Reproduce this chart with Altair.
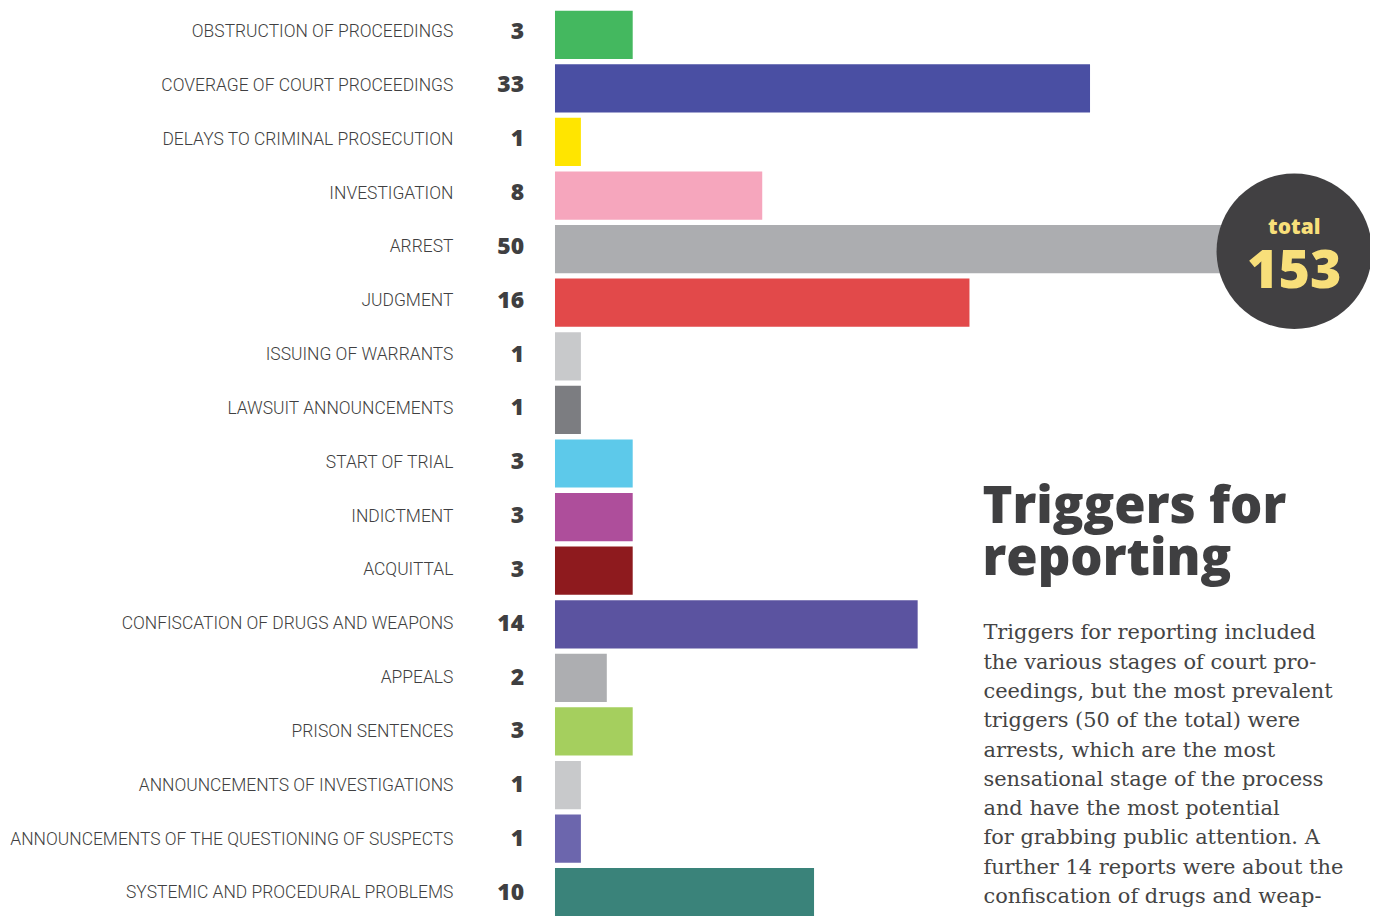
import altair as alt
import pandas as pd

categories = [
    "OBSTRUCTION OF PROCEEDINGS",
    "COVERAGE OF COURT PROCEEDINGS",
    "DELAYS TO CRIMINAL PROSECUTION",
    "INVESTIGATION",
    "ARREST",
    "JUDGMENT",
    "ISSUING OF WARRANTS",
    "LAWSUIT ANNOUNCEMENTS",
    "START OF TRIAL",
    "INDICTMENT",
    "ACQUITTAL",
    "CONFISCATION OF DRUGS AND WEAPONS",
    "APPEALS",
    "PRISON SENTENCES",
    "ANNOUNCEMENTS OF INVESTIGATIONS",
    "ANNOUNCEMENTS OF THE QUESTIONING OF SUSPECTS",
    "SYSTEMIC AND PROCEDURAL PROBLEMS",
]
values = [3, 33, 1, 8, 50, 16, 1, 1, 3, 3, 3, 14, 2, 3, 1, 1, 10]
colors = [
    "#44b85f", "#4a4fa3", "#ffe500", "#f6a6bd", "#acadb0", "#e2494a",
    "#c8c9cb", "#7c7d81", "#5dc9ea", "#ae4e9b", "#8e1a1e", "#5b53a0",
    "#adaeb1", "#a5cf5e", "#c8c9cb", "#6c66ad", "#3a837a",
]

title_lines = ["Triggers for", "reporting"]
body_lines = [
    "Triggers for reporting included",
    "the various stages of court pro-",
    "ceedings, but the most prevalent",
    "triggers (50 of the total) were",
    "arrests, which are the most",
    "sensational stage of the process",
    "and have the most potential",
    "for grabbing public attention. A",
    "further 14 reports were about the",
    "confiscation of drugs and weap-",
    "ons.",
]

df = pd.DataFrame({"category": categories, "value": values})
total_df = pd.DataFrame({"label": ["total"], "total": [sum(values)]})
title_df = pd.DataFrame({"text": title_lines, "i": list(range(len(title_lines)))})
body_df = pd.DataFrame({"text": body_lines, "i": list(range(len(body_lines)))})

DARK = "#3f3f41"
LABEL_FONT = "Roboto"
HEAVY_FONT = "Open Sans"

y_bar = alt.Y("category:N", sort=categories, axis=None,
              scale=alt.Scale(range=[0, 909], paddingInner=0.1, paddingOuter=0))
y_txt = alt.Y("category:N", sort=categories, axis=None,
              scale=alt.Scale(range=[-7, 911.5], paddingInner=0, paddingOuter=0))

# piecewise scale: bars are drawn at 26 px/unit, the two largest are shortened
xscale = alt.Scale(domain=[0, 16, 33, 50], range=[0, 416, 537, 813], clamp=True)

bars = alt.Chart(df).mark_bar(cornerRadius=0).encode(
    x=alt.X("value:Q", scale=xscale, axis=None),
    y=y_bar,
    color=alt.Color("category:N", scale=alt.Scale(domain=categories, range=colors), legend=None),
)

labels = alt.Chart(df).mark_text(
    align="right", baseline="alphabetic", dy=6.5, font=LABEL_FONT, fontSize=17.5,
    fontWeight=300, color=DARK,
).encode(x=alt.value(-102), y=y_txt, text="category:N")

nums = alt.Chart(df).mark_text(
    align="right", baseline="alphabetic", dy=8, font=HEAVY_FONT, fontSize=23,
    fontWeight=800, color=DARK,
).encode(x=alt.value(-31), y=y_txt, text="value:Q")

circle = alt.Chart(total_df).mark_circle(size=156 * 156, opacity=1, color="#414042").encode(
    x=alt.value(742), y=alt.value(241.5)
)
total_word = alt.Chart(total_df).mark_text(
    align="center", baseline="alphabetic", font=HEAVY_FONT, fontSize=21, fontWeight=800,
    color="#f8df7a",
).encode(x=alt.value(742), y=alt.value(224), text="label:N")
total_num = alt.Chart(total_df).mark_text(
    align="center", baseline="alphabetic", font=HEAVY_FONT, fontSize=54, fontWeight=800,
    color="#f8df7a",
).encode(x=alt.value(742), y=alt.value(278), text="total:Q")

title = alt.Chart(title_df).mark_text(
    align="left", baseline="alphabetic", font=HEAVY_FONT, fontSize=51, fontWeight=800,
    color=DARK,
).encode(
    x=alt.value(429),
    y=alt.Y("i:Q", axis=None, scale=alt.Scale(domain=[0, 1], range=[514, 566])),
    text="text:N",
)

body = alt.Chart(body_df).mark_text(
    align="left", baseline="alphabetic", font="DejaVu Serif", fontSize=21,
    color="#444444",
).encode(
    x=alt.value(430),
    y=alt.Y("i:Q", axis=None, scale=alt.Scale(domain=[0, 10], range=[631, 925])),
    text="text:N",
)

chart = alt.layer(bars, labels, nums, circle, total_word, total_num, title, body).resolve_scale(
    y="independent"
).properties(
    width=815, height=907,
    padding={"left": 549, "top": 1, "right": 3, "bottom": 0},
    autosize=alt.AutoSizeParams(type="none"),
    background="white",
).configure_view(stroke=None)

chart.save("out.html", embed_options={"renderer": "svg", "actions": False})
